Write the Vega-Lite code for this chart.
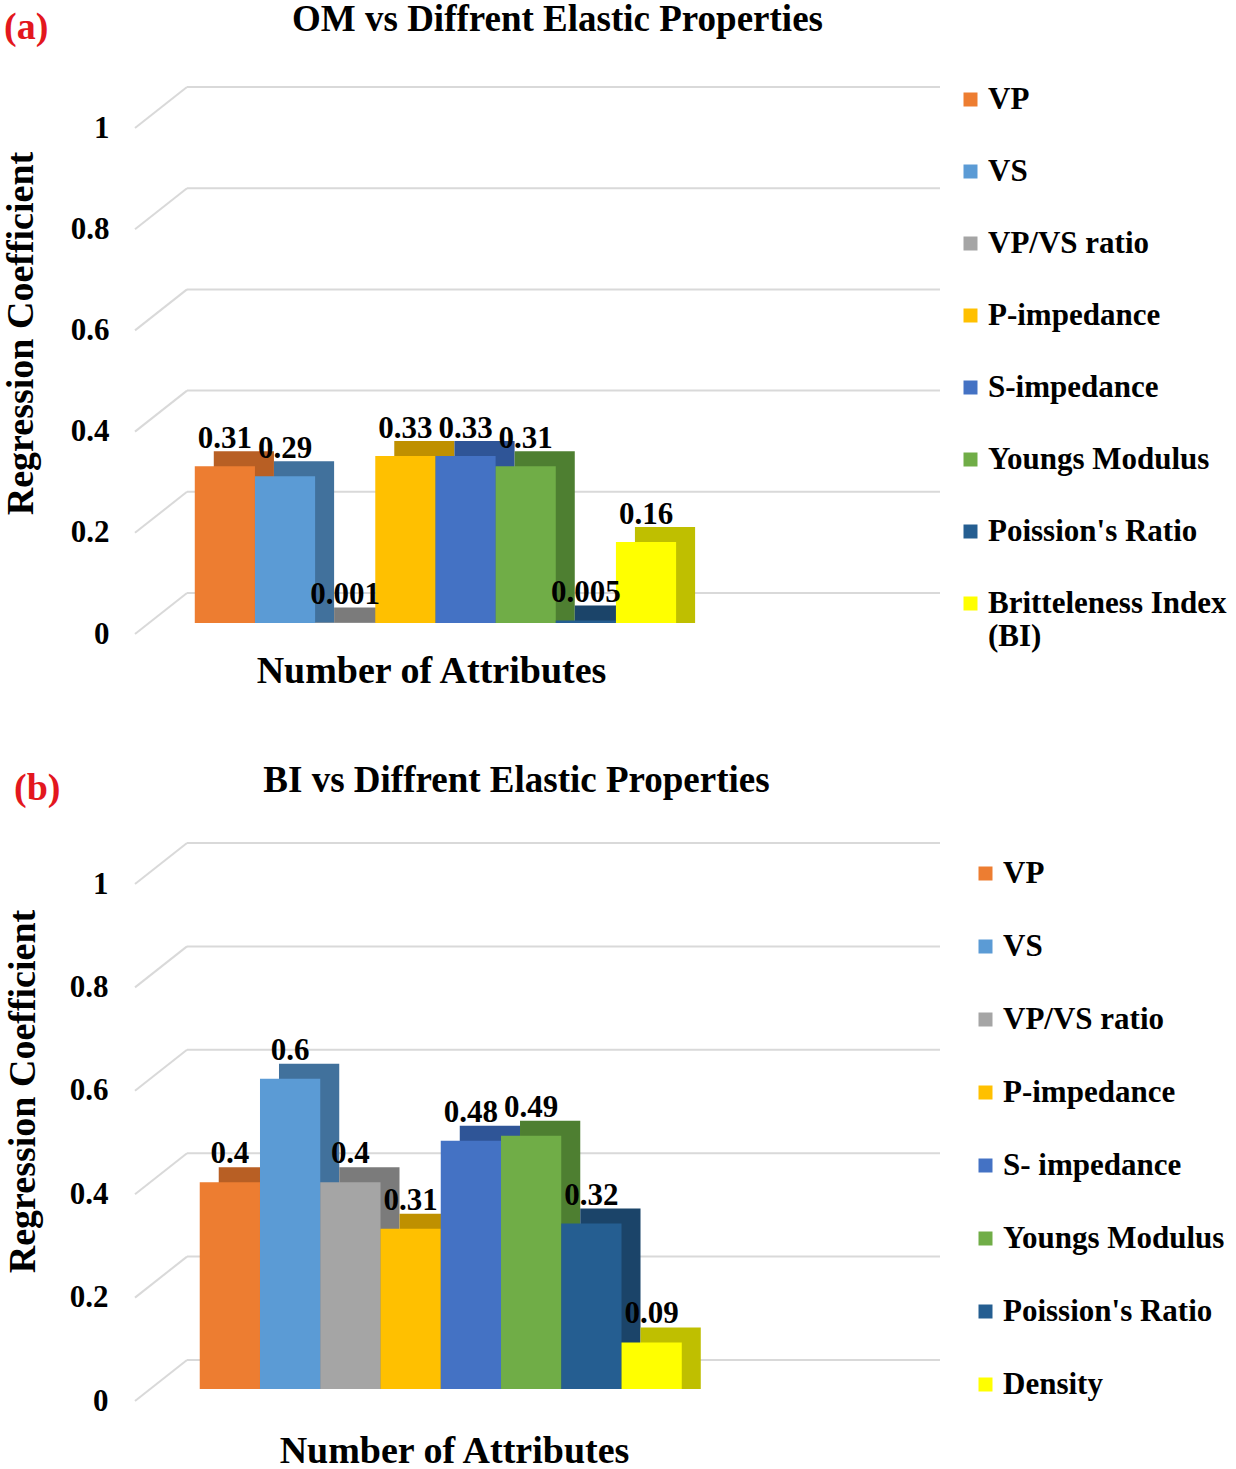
{
  "$schema": "https://vega.github.io/schema/vega-lite/v6.json",
  "padding": {"left": 2, "top": 1, "right": 0, "bottom": 0},
  "spacing": 72,
  "config": {
    "font": "Liberation Serif",
    "view": {"stroke": null},
    "title": {"fontSize": 37, "fontWeight": "bold", "color": "#000"},
    "axis": {"labelFontSize": 31, "labelFontWeight": "bold", "labelColor": "#000", "titleFontSize": 38, "titleFontWeight": "bold", "titleColor": "#000", "grid": false, "domain": false, "ticks": false},
    "legend": {"labelFontSize": 31, "labelFontWeight": "bold", "labelColor": "#000", "symbolType": "square", "symbolSize": 196, "symbolStrokeWidth": 0, "labelLimit": 400, "padding": 0, "labelOffset": 2}
  },
  "resolve": {"scale": {"color": "independent", "x": "independent", "y": "independent"}, "legend": {"color": "independent"}},
  "vconcat": [
    {
      "title": {"text": "(a)", "anchor": "start", "color": "#E3171E", "fontSize": 38, "offset": -46, "dx": 2, "frame": "bounds"},
      "vconcat": [
        {
          "width": 805,
          "height": 506,
          "title": {"text": "OM vs Diffrent Elastic Properties", "anchor": "middle", "frame": "group", "dx": 20, "offset": 45},
          "data": {"values": [
            {"attr": "VP", "value": 0.31},
            {"attr": "VS", "value": 0.29},
            {"attr": "VP/VS ratio", "value": 0.001},
            {"attr": "P-impedance", "value": 0.33},
            {"attr": "S-impedance", "value": 0.33},
            {"attr": "Youngs Modulus", "value": 0.31},
            {"attr": "Poission's  Ratio", "value": 0.005},
            {"attr": "Britteleness Index (BI)", "value": 0.16}
          ]},
          "resolve": {"scale": {"color": "independent"}, "legend": {"color": "independent"}},
          "layer": [
            {
              "data": {"values": [{"v": 0}, {"v": 0.2}, {"v": 0.4}, {"v": 0.6}, {"v": 0.8}, {"v": 1}]},
              "mark": {"type": "rule", "color": "#d9d9d9", "strokeWidth": 2, "xOffset": 52, "yOffset": -30},
              "encoding": {
                "x": {"value": 0},
                "x2": {"value": "width"},
                "y": {"field": "v", "type": "quantitative", "scale": {"domain": [0, 1], "nice": false},
                  "axis": {"values": [0, 0.2, 0.4, 0.6, 0.8, 1], "format": "~g", "labelOffset": 11, "labelPadding": 26, "title": "Regression Coefficient", "titleX": -114, "titleY": 216, "titleAngle": 270, "titleAlign": "center", "titleBaseline": "middle"}}
              }
            },
            {
              "data": {"values": [{"v": 0}, {"v": 0.2}, {"v": 0.4}, {"v": 0.6}, {"v": 0.8}, {"v": 1}]},
              "mark": {"type": "rule", "color": "#d9d9d9", "strokeWidth": 2, "yOffset": 11, "y2Offset": -30, "x2Offset": 52},
              "encoding": {
                "x": {"value": 0},
                "x2": {"value": 0},
                "y": {"field": "v", "type": "quantitative"},
                "y2": {"field": "v"}
              }
            },
            {
              "mark": {"type": "bar", "xOffset": 19, "yOffset": -15},
              "encoding": {
                "x": {"field": "attr", "type": "nominal",
                  "scale": {"domain": ["VP", "VS", "VP/VS ratio", "P-impedance", "S-impedance", "Youngs Modulus", "Poission's  Ratio", "Britteleness Index (BI)", " ", "  ", "   ", "    "], "paddingInner": 0, "paddingOuter": 0.69, "align": 0.72},
                  "axis": {"labels": false, "title": "Number of Attributes", "titleX": 296, "titleY": 48, "titleBaseline": "middle"}},
                "y": {"field": "value", "type": "quantitative"},
                "y2": {"datum": 0},
                "color": {"field": "attr", "type": "nominal",
                  "scale": {"domain": ["VP", "VS", "VP/VS ratio", "P-impedance", "S-impedance", "Youngs Modulus", "Poission's  Ratio", "Britteleness Index (BI)"],
                    "range": ["#B85F24", "#41719C", "#7B7B7B", "#BF9000", "#2F5597", "#4E7F31", "#1B4469", "#BFBF00"]},
                  "legend": null}
              }
            },
            {
              "mark": {"type": "bar"},
              "encoding": {
                "x": {"field": "attr", "type": "nominal",
                  "scale": {"domain": ["VP", "VS", "VP/VS ratio", "P-impedance", "S-impedance", "Youngs Modulus", "Poission's  Ratio", "Britteleness Index (BI)", " ", "  ", "   ", "    "], "paddingInner": 0, "paddingOuter": 0.69, "align": 0.72}},
                "y": {"field": "value", "type": "quantitative"},
                "y2": {"datum": 0},
                "color": {"field": "attr", "type": "nominal",
                  "scale": {"domain": ["VP", "VS", "VP/VS ratio", "P-impedance", "S-impedance", "Youngs Modulus", "Poission's  Ratio", "Britteleness Index (BI)"],
                    "range": ["#ED7D31", "#5B9BD5", "#A5A5A5", "#FFC000", "#4472C4", "#70AD47", "#255E91", "#FFFF00"]},
                  "legend": {"orient": "none", "legendX": 820, "legendY": -33, "title": null, "rowPadding": 40,
                    "labelExpr": "datum.label == 'Britteleness Index (BI)' ? ['Britteleness Index', '(BI)'] : datum.label"}}
              }
            },
            {
              "mark": {"type": "text", "dy": -18, "baseline": "alphabetic", "fontSize": 31, "fontWeight": "bold", "color": "#000"},
              "encoding": {
                "x": {"field": "attr", "type": "nominal",
                  "scale": {"domain": ["VP", "VS", "VP/VS ratio", "P-impedance", "S-impedance", "Youngs Modulus", "Poission's  Ratio", "Britteleness Index (BI)", " ", "  ", "   ", "    "], "paddingInner": 0, "paddingOuter": 0.69, "align": 0.72}},
                "y": {"field": "value", "type": "quantitative"},
                "text": {"field": "value", "type": "quantitative", "format": ".3~g"}
              }
            }
          ]
        }
      ]
    },
    {
      "title": {"text": "(b)", "anchor": "start", "color": "#E3171E", "fontSize": 38, "offset": -46, "dx": 10, "frame": "bounds"},
      "vconcat": [
        {
          "width": 805,
          "height": 517,
          "title": {"text": "BI vs Diffrent Elastic Properties", "anchor": "middle", "frame": "group", "dx": -21, "offset": 42},
          "data": {"values": [
            {"attr": "VP", "value": 0.4},
            {"attr": "VS", "value": 0.6},
            {"attr": "VP/VS ratio", "value": 0.4},
            {"attr": "P-impedance", "value": 0.31},
            {"attr": "S- impedance", "value": 0.48},
            {"attr": "Youngs Modulus", "value": 0.49},
            {"attr": "Poission's Ratio", "value": 0.32},
            {"attr": "Density", "value": 0.09}
          ]},
          "resolve": {"scale": {"color": "independent"}, "legend": {"color": "independent"}},
          "layer": [
            {
              "data": {"values": [{"v": 0}, {"v": 0.2}, {"v": 0.4}, {"v": 0.6}, {"v": 0.8}, {"v": 1}]},
              "mark": {"type": "rule", "color": "#d9d9d9", "strokeWidth": 2, "xOffset": 52, "yOffset": -29},
              "encoding": {
                "x": {"value": 0},
                "x2": {"value": "width"},
                "y": {"field": "v", "type": "quantitative", "scale": {"domain": [0, 1], "nice": false},
                  "axis": {"values": [0, 0.2, 0.4, 0.6, 0.8, 1], "format": "~g", "labelOffset": 12, "labelPadding": 27, "title": "Regression Coefficient", "titleX": -112, "titleY": 219, "titleAngle": 270, "titleAlign": "center", "titleBaseline": "middle"}}
              }
            },
            {
              "data": {"values": [{"v": 0}, {"v": 0.2}, {"v": 0.4}, {"v": 0.6}, {"v": 0.8}, {"v": 1}]},
              "mark": {"type": "rule", "color": "#d9d9d9", "strokeWidth": 2, "yOffset": 12, "y2Offset": -29, "x2Offset": 52},
              "encoding": {
                "x": {"value": 0},
                "x2": {"value": 0},
                "y": {"field": "v", "type": "quantitative"},
                "y2": {"field": "v"}
              }
            },
            {
              "mark": {"type": "bar", "xOffset": 19, "yOffset": -15},
              "encoding": {
                "x": {"field": "attr", "type": "nominal",
                  "scale": {"domain": ["VP", "VS", "VP/VS ratio", "P-impedance", "S- impedance", "Youngs Modulus", "Poission's Ratio", "Density", " ", "  ", "   ", "    "], "paddingInner": 0, "paddingOuter": 0.68, "align": 0.79},
                  "axis": {"labels": false, "title": "Number of Attributes", "titleX": 319, "titleY": 62, "titleBaseline": "middle"}},
                "y": {"field": "value", "type": "quantitative"},
                "y2": {"datum": 0},
                "color": {"field": "attr", "type": "nominal",
                  "scale": {"domain": ["VP", "VS", "VP/VS ratio", "P-impedance", "S- impedance", "Youngs Modulus", "Poission's Ratio", "Density"],
                    "range": ["#B85F24", "#41719C", "#7B7B7B", "#BF9000", "#2F5597", "#4E7F31", "#1B4469", "#BFBF00"]},
                  "legend": null}
              }
            },
            {
              "mark": {"type": "bar"},
              "encoding": {
                "x": {"field": "attr", "type": "nominal",
                  "scale": {"domain": ["VP", "VS", "VP/VS ratio", "P-impedance", "S- impedance", "Youngs Modulus", "Poission's Ratio", "Density", " ", "  ", "   ", "    "], "paddingInner": 0, "paddingOuter": 0.68, "align": 0.79}},
                "y": {"field": "value", "type": "quantitative"},
                "y2": {"datum": 0},
                "color": {"field": "attr", "type": "nominal",
                  "scale": {"domain": ["VP", "VS", "VP/VS ratio", "P-impedance", "S- impedance", "Youngs Modulus", "Poission's Ratio", "Density"],
                    "range": ["#ED7D31", "#5B9BD5", "#A5A5A5", "#FFC000", "#4472C4", "#70AD47", "#255E91", "#FFFF00"]},
                  "legend": {"orient": "none", "legendX": 835, "legendY": -14, "title": null, "rowPadding": 41}}
              }
            },
            {
              "mark": {"type": "text", "dy": -19, "baseline": "alphabetic", "fontSize": 31, "fontWeight": "bold", "color": "#000"},
              "encoding": {
                "x": {"field": "attr", "type": "nominal",
                  "scale": {"domain": ["VP", "VS", "VP/VS ratio", "P-impedance", "S- impedance", "Youngs Modulus", "Poission's Ratio", "Density", " ", "  ", "   ", "    "], "paddingInner": 0, "paddingOuter": 0.68, "align": 0.79}},
                "y": {"field": "value", "type": "quantitative"},
                "text": {"field": "value", "type": "quantitative", "format": ".3~g"}
              }
            }
          ]
        }
      ]
    }
  ]
}
